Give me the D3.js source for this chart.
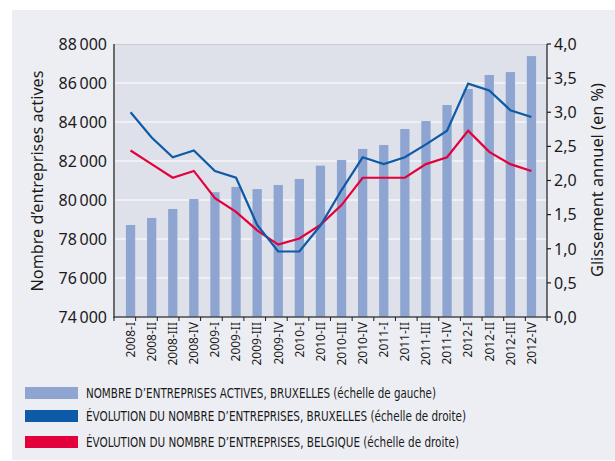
<!DOCTYPE html>
<html>
<head>
<meta charset="utf-8">
<title>Entreprises actives</title>
<script src="https://d3js.org/d3.v7.min.js"></script>
<style>
  body { margin: 0; background: #fff; }
  text { font-family: "Noto Sans", "Open Sans", sans-serif; fill: #1a1a1a; }
  .leg text { font-family: "Liberation Sans Narrow", "DejaVu Sans Condensed", sans-serif; font-size: 13.5px; }
</style>
</head>
<body>
<svg width="615" height="461"></svg>
<script>
// quarters
var quarters = ["2008-I","2008-II","2008-III","2008-IV",
  "2009-I","2009-II","2009-III","2009-IV",
  "2010-I","2010-II","2010-III","2010-IV",
  "2011-I","2011-II","2011-III","2011-IV",
  "2012-I","2012-II","2012-III","2012-IV"];

// nombre d'entreprises actives, Bruxelles (left scale)
var activesBxl = [78720, 79080, 79540, 80050, 80400, 80670, 80560, 80770,
  81080, 81760, 82050, 82620, 82820, 83640, 84050, 84870,
  85690, 86410, 86560, 87380];

// glissement annuel (%) - right scale
var evolBxl = [3.00, 2.63, 2.34, 2.44, 2.14, 2.04, 1.35, 0.96,
  0.96, 1.34, 1.86, 2.34, 2.24, 2.34, 2.53, 2.73,
  3.42, 3.32, 3.03, 2.93];
var evolBel = [2.44, 2.24, 2.04, 2.14, 1.74, 1.54, 1.27, 1.06,
  1.15, 1.35, 1.64, 2.04, 2.04, 2.04, 2.24, 2.34,
  2.73, 2.42, 2.24, 2.14];

var leftTicks = [74000, 76000, 78000, 80000, 82000, 84000, 86000, 88000];
var rightTicks = [0, 0.5, 1, 1.5, 2, 2.5, 3, 3.5, 4];

var legendItems = [
  "NOMBRE D\u2019ENTREPRISES ACTIVES, BRUXELLES (\u00e9chelle de gauche)",
  "\u00c9VOLUTION DU NOMBRE D\u2019ENTREPRISES, BRUXELLES (\u00e9chelle de droite)",
  "\u00c9VOLUTION DU NOMBRE D\u2019ENTREPRISES, BELGIQUE (\u00e9chelle de droite)"
];
var legendColors = ["#8ea5d1", "#0d5aa7", "#e4003b"];

var svg = d3.select("svg");
var pLeft = 114, pRight = 547, pTop = 44, pBottom = 317;

// outer panel
svg.append("rect").attr("x", 12).attr("y", 10).attr("width", 603).attr("height", 450)
  .attr("fill", "#edeef3");
// plot area
svg.append("rect").attr("x", pLeft).attr("y", pTop).attr("width", pRight - pLeft).attr("height", pBottom - pTop)
  .attr("fill", "#dfe1ea");
svg.append("line").attr("x1", pLeft).attr("x2", pRight).attr("y1", pTop + 0.5).attr("y2", pTop + 0.5)
  .attr("stroke", "#c9cbd3").attr("stroke-width", 1);

var yL = d3.scaleLinear().domain([74000, 88000]).range([pBottom, pTop]);
var yR = d3.scaleLinear().domain([0, 4]).range([pBottom, pTop]);
var xTick = d3.scaleBand().domain(quarters).range([pLeft, pRight]);
var x = d3.scaleBand().domain(quarters).range([120, 542]).paddingInner(0.56).paddingOuter(0.28);

// gridlines (left scale)
svg.append("g").selectAll("line").data(leftTicks.slice(1, -1)).enter().append("line")
  .attr("x1", pLeft).attr("x2", pRight)
  .attr("y1", function(d) { return yL(d); }).attr("y2", function(d) { return yL(d); })
  .attr("stroke", "#ffffff").attr("stroke-width", 1.2);

// bars
svg.append("g").selectAll("rect").data(activesBxl).enter().append("rect")
  .attr("x", function(d, i) { return x(quarters[i]); })
  .attr("width", x.bandwidth())
  .attr("y", function(d) { return yL(d); })
  .attr("height", function(d) { return pBottom - yL(d); })
  .attr("fill", legendColors[0]);

function cx(i) { return x(quarters[i]) + x.bandwidth() / 2; }

var line = d3.line().x(function(d, i) { return cx(i); }).y(function(d) { return yR(d); });

svg.append("path").datum(evolBel).attr("d", line)
  .attr("fill", "none").attr("stroke", legendColors[2]).attr("stroke-width", 2.2);
svg.append("path").datum(evolBxl).attr("d", line)
  .attr("fill", "none").attr("stroke", legendColors[1]).attr("stroke-width", 2.2);

// left axis
svg.append("line").attr("x1", pLeft).attr("x2", pLeft).attr("y1", pTop).attr("y2", pBottom + 1)
  .attr("stroke", "#6b6b6b").attr("stroke-width", 2);
svg.append("g").selectAll("text").data(leftTicks).enter().append("text")
  .attr("x", 107).attr("y", function(d) { return yL(d); }).attr("dy", "0.36em")
  .attr("text-anchor", "end").style("font-size", "16px")
  .text(function(d) { return d3.format(",")(d).replace(",", "\u2009"); });

// right axis
svg.append("line").attr("x1", pRight).attr("x2", pRight).attr("y1", pTop).attr("y2", pBottom)
  .attr("stroke", "#1a1a1a").attr("stroke-width", 1.2);
svg.append("g").selectAll("line").data(rightTicks).enter().append("line")
  .attr("x1", pRight).attr("x2", pRight + 4)
  .attr("y1", function(d) { return yR(d); }).attr("y2", function(d) { return yR(d); })
  .attr("stroke", "#1a1a1a").attr("stroke-width", 1.2);
svg.append("g").selectAll("text").data(rightTicks).enter().append("text")
  .attr("x", 554).attr("y", function(d) { return yR(d); }).attr("dy", "0.36em")
  .style("font-size", "16px")
  .text(function(d) { return d3.format(".1f")(d).replace(".", ","); });

// bottom axis
svg.append("line").attr("x1", pLeft).attr("x2", pRight).attr("y1", pBottom).attr("y2", pBottom)
  .attr("stroke", "#4a4a4a").attr("stroke-width", 1.5);
var bounds = quarters.map(function(q) { return xTick(q); }).concat([pRight]);
svg.append("g").selectAll("line").data(bounds).enter().append("line")
  .attr("x1", function(d) { return d; }).attr("x2", function(d) { return d; })
  .attr("y1", pBottom).attr("y2", pBottom + 4)
  .attr("stroke", "#1a1a1a").attr("stroke-width", 1);
svg.append("g").selectAll("text").data(quarters).enter().append("text")
  .attr("transform", function(d, i) { return "translate(" + cx(i) + "," + 322 + ") rotate(-90)"; })
  .attr("dy", "0.36em").attr("text-anchor", "end").style("font-size", "12px")
  .text(function(d) { return d; });

// axis titles
svg.append("text").attr("transform", "translate(37,181) rotate(-90)")
  .attr("dy", "0.36em").attr("text-anchor", "middle").style("font-size", "16px")
  .attr("textLength", 221).attr("lengthAdjust", "spacingAndGlyphs")
  .text("Nombre d\u2019entreprises actives");
svg.append("text").attr("transform", "translate(597,180) rotate(-90)")
  .attr("dy", "0.36em").attr("text-anchor", "middle").style("font-size", "16px")
  .attr("textLength", 194).attr("lengthAdjust", "spacingAndGlyphs")
  .text("Glissement annuel (en %)");

// legend
var legY = [393, 416, 442];
var legW = [350, 380, 373];
var leg = svg.append("g").attr("class", "leg");
leg.selectAll("rect").data(legendItems).enter().append("rect")
  .attr("x", 25).attr("width", 53)
  .attr("y", function(d, i) { return legY[i] - 6; }).attr("height", 12)
  .attr("fill", function(d, i) { return legendColors[i]; });
leg.selectAll("text").data(legendItems).enter().append("text")
  .attr("x", 86).attr("y", function(d, i) { return legY[i]; }).attr("dy", "0.36em")
  .attr("textLength", function(d, i) { return legW[i]; })
  .attr("lengthAdjust", "spacingAndGlyphs")
  .text(function(d) { return d; });
</script>
</body>
</html>
